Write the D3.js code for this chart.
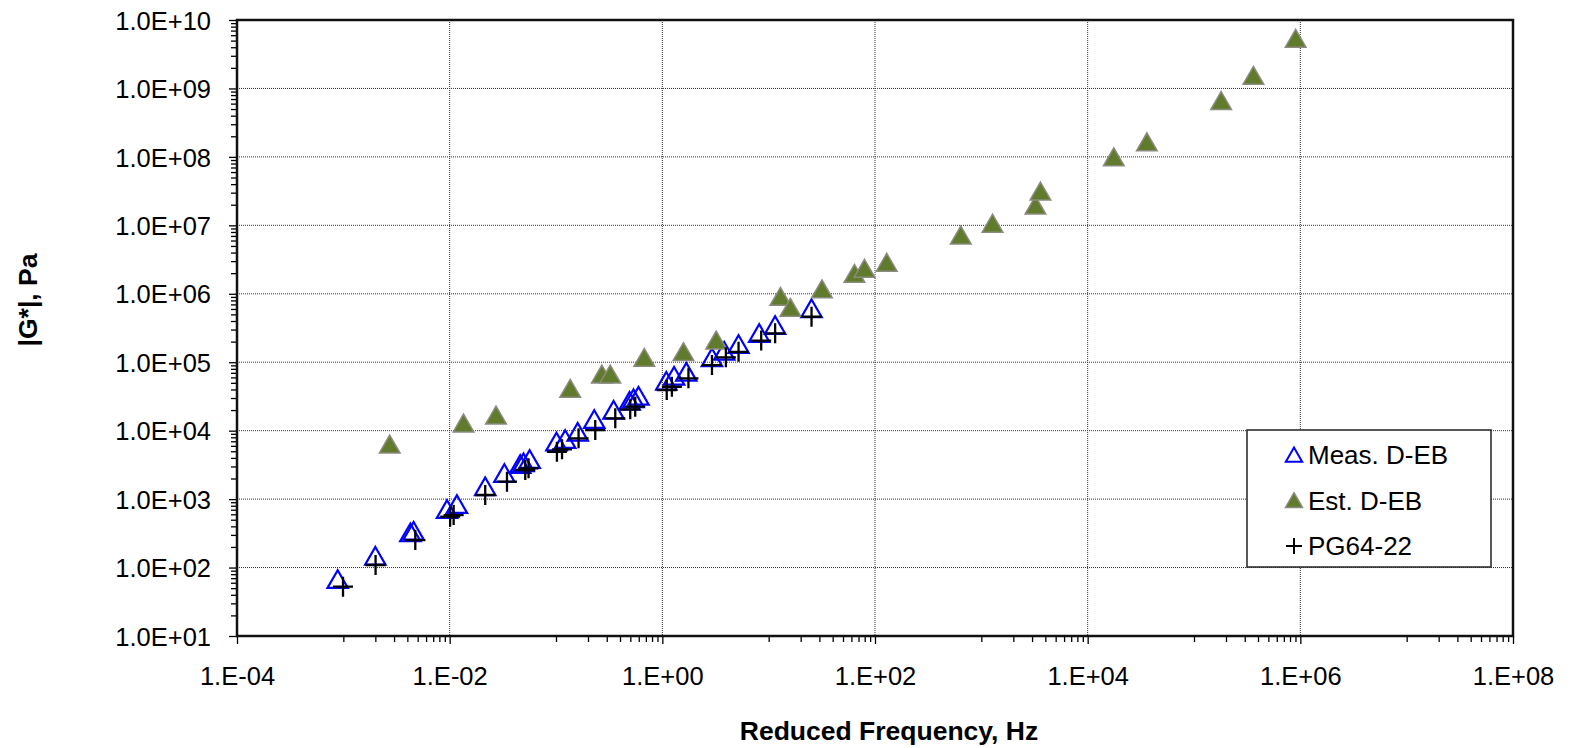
<!DOCTYPE html>
<html lang="en">
<head>
<meta charset="UTF-8">
<title>|G*| vs Reduced Frequency</title>
<script src="https://d3js.org/d3.v7.min.js"></script>
<style>
    body { margin: 0; background: #fff; font-family: "Liberation Sans", Arial, sans-serif; }
    .tick text { font-family: "Liberation Sans", Arial, sans-serif; font-size: 25.5px; fill: #000; }
    .grid line { stroke: #333; stroke-width: 1; stroke-dasharray: 1,1; }
    .axis-title { font-family: "Liberation Sans", Arial, sans-serif; font-size: 26.5px; font-weight: bold; }
    .legend text { font-family: "Liberation Sans", Arial, sans-serif; font-size: 26px; }
</style>
</head>
<body>
<div id="chart"></div>
<script>
// Meas. D-EB (open blue triangles)
const measFreq = [8.85e-4, 2.0e-3, 4.27e-3, 4.58e-3, 9.44e-3, 1.17e-2, 2.16e-2, 3.27e-2, 4.61e-2, 4.95e-2,
    5.65e-2, 0.101, 0.122, 0.160, 0.229, 0.348, 0.492, 0.536, 0.597, 1.09,
    1.29, 1.68, 2.93, 3.82, 5.21, 8.15, 11.5, 25.3];
const measG = [65.8, 144, 316, 333, 692, 818, 1486, 2323, 3148, 3334,
    3724, 6714, 7295, 9333, 14290, 19540, 26490, 28710, 31330, 51880,
    61380, 70310, 1.14e5, 1.42e5, 1.78e5, 2.58e5, 3.38e5, 5.93e5];

// Est. D-EB (filled green triangles)
const estFreq = [2.73e-3, 1.35e-2, 2.73e-2, 0.136, 0.270, 0.324, 0.676, 1.58, 3.21, 12.9,
    16.0, 31.7, 64.1, 79.6, 129, 641, 1274, 3228, 3597, 17620,
    36060, 1.80e5, 3.62e5, 9.04e5];
const estG = [6166, 12500, 16370, 40180, 65010, 65010, 1.14e5, 1.38e5, 2.04e5, 8.87e5,
    6.12e5, 1.14e6, 1.92e6, 2.28e6, 2.79e6, 6.98e6, 1.04e7, 1.91e7, 3.07e7, 9.70e7,
    1.61e8, 6.44e8, 1.50e9, 5.24e9];

// PG64-22 (plus markers)
const pgFreq = [9.93e-4, 2.01e-3, 4.75e-3, 1.01e-2, 1.09e-2, 2.16e-2, 3.46e-2, 5.14e-2, 5.52e-2, 0.102,
    0.114, 0.163, 0.234, 0.361, 0.499, 0.556, 1.10, 1.23, 1.76, 2.93,
    3.96, 5.21, 8.51, 11.5, 25.3];
const pgG = [52.5, 109, 252, 553, 585, 1148, 1795, 2661, 2818, 4920,
    5333, 7727, 10210, 15140, 20510, 22390, 39260, 43850, 58210, 90990,
    1.18e5, 1.42e5, 2.07e5, 2.64e5, 4.62e5];

const xTicks = [1e-4, 1e-2, 1e0, 1e2, 1e4, 1e6, 1e8];
const xTickLabels = ["1.E-04", "1.E-02", "1.E+00", "1.E+02", "1.E+04", "1.E+06", "1.E+08"];
const yTicks = [1e1, 1e2, 1e3, 1e4, 1e5, 1e6, 1e7, 1e8, 1e9, 1e10];
const yTickLabels = ["1.0E+01", "1.0E+02", "1.0E+03", "1.0E+04", "1.0E+05", "1.0E+06", "1.0E+07", "1.0E+08", "1.0E+09", "1.0E+10"];
const seriesNames = ["Meas. D-EB", "Est. D-EB", "PG64-22"];

const W = 1576, H = 748;
const margin = {top: 20, right: 63, bottom: 112, left: 237};
const width = W - margin.left - margin.right;
const height = H - margin.top - margin.bottom;

const svg = d3.select("#chart").append("svg")
    .attr("width", W)
    .attr("height", H);

const g = svg.append("g")
    .attr("transform", `translate(${margin.left},${margin.top})`);

const x = d3.scaleLog().domain([1e-4, 1e8]).range([0, width]);
const y = d3.scaleLog().domain([1e1, 1e10]).range([height, 0]);

// minor ticks: x only in the decade under each labelled one, y in every decade
const xMinor = [];
[-3, -1, 1, 3, 5, 7].forEach(e => { for (let k = 1; k <= 9; k++) xMinor.push(k * Math.pow(10, e)); });
const yMinor = [];
for (let e = 1; e < 10; e++) { for (let k = 2; k <= 9; k++) yMinor.push(k * Math.pow(10, e)); }

// gridlines
g.append("g").attr("class", "grid")
    .selectAll("line")
    .data(yTicks.slice(1, -1))
    .enter().append("line")
    .attr("x1", 0).attr("x2", width)
    .attr("y1", d => y(d)).attr("y2", d => y(d));

g.append("g").attr("class", "grid")
    .selectAll("line")
    .data(xTicks.slice(1, -1))
    .enter().append("line")
    .attr("y1", 0).attr("y2", height)
    .attr("x1", d => x(d)).attr("x2", d => x(d));

// axes
g.append("g")
    .attr("transform", `translate(0,${height})`)
    .call(d3.axisBottom(x).tickValues(xMinor).tickSize(6).tickFormat(""));
const xAxis = g.append("g")
    .attr("transform", `translate(0,${height})`)
    .call(d3.axisBottom(x).tickValues(xTicks).tickSize(8)
        .tickFormat((d, i) => xTickLabels[i]));
xAxis.selectAll("text").attr("y", 31).attr("dy", "0.71em");

g.append("g")
    .call(d3.axisLeft(y).tickValues(yMinor).tickSize(6).tickFormat(""));
const yAxis = g.append("g")
    .call(d3.axisLeft(y).tickValues(yTicks).tickSize(8)
        .tickFormat((d, i) => yTickLabels[i]));
yAxis.selectAll("text").attr("x", -26).attr("dy", "0.36em");

g.selectAll(".domain").remove();
g.selectAll(".tick line").attr("stroke", "#000").attr("stroke-width", 1.3);

// plot frame
g.append("rect")
    .attr("x", 0).attr("y", 0)
    .attr("width", width).attr("height", height)
    .attr("fill", "none")
    .attr("stroke", "#111")
    .attr("stroke-width", 2.5);

// markers
const triUp = d3.symbol().type(d3.symbolTriangle).size(180);
const triUpFilled = d3.symbol().type(d3.symbolTriangle).size(185);
const cross = s => `M${-s},0H${s}M0,${-s}V${s}`;

const meas = measFreq.map((f, i) => ({f: f, g: measG[i]}));
const est = estFreq.map((f, i) => ({f: f, g: estG[i]}));
const pg = pgFreq.map((f, i) => ({f: f, g: pgG[i]}));

g.append("g").selectAll("path")
    .data(meas)
    .enter().append("path")
    .attr("d", triUp)
    .attr("transform", d => `translate(${x(d.f)},${y(d.g) + 2})`)
    .attr("fill", "none")
    .attr("stroke", "#0000ff")
    .attr("stroke-width", 2.2);

g.append("g").selectAll("path")
    .data(est)
    .enter().append("path")
    .attr("d", triUpFilled)
    .attr("transform", d => `translate(${x(d.f)},${y(d.g) + 2})`)
    .attr("fill", "#5f7b2b")
    .attr("stroke", "#8b8b80")
    .attr("stroke-width", 1.5);

g.append("g").selectAll("path")
    .data(pg)
    .enter().append("path")
    .attr("d", cross(10))
    .attr("transform", d => `translate(${x(d.f)},${y(d.g)})`)
    .attr("fill", "none")
    .attr("stroke", "#000")
    .attr("stroke-width", 2.3);

// axis titles
svg.append("text")
    .attr("class", "axis-title")
    .attr("text-anchor", "middle")
    .attr("x", 889)
    .attr("y", 740)
    .text("Reduced Frequency, Hz");

svg.append("text")
    .attr("class", "axis-title")
    .attr("text-anchor", "middle")
    .attr("transform", "translate(37,300) rotate(-90)")
    .text("|G*|, Pa");

// legend
const legend = svg.append("g").attr("class", "legend")
    .attr("transform", "translate(1247,430)");

legend.append("rect")
    .attr("width", 244).attr("height", 137)
    .attr("fill", "#fff")
    .attr("stroke", "#222")
    .attr("stroke-width", 1.5);

const rows = legend.selectAll("g.row")
    .data(seriesNames)
    .enter().append("g")
    .attr("class", "row")
    .attr("transform", (d, i) => `translate(0,${25 + i * 45.5})`);

rows.each(function(d, i) {
    const r = d3.select(this);
    if (i === 0) {
        r.append("path").attr("d", d3.symbol().type(d3.symbolTriangle).size(115))
            .attr("transform", "translate(47,2)")
            .attr("fill", "none").attr("stroke", "#0000ff").attr("stroke-width", 2);
    } else if (i === 1) {
        r.append("path").attr("d", d3.symbol().type(d3.symbolTriangle).size(125))
            .attr("transform", "translate(47,2)")
            .attr("fill", "#5f7b2b").attr("stroke", "#8b8b80").attr("stroke-width", 1.5);
    } else {
        r.append("path").attr("d", cross(8))
            .attr("transform", "translate(47,0)")
            .attr("fill", "none").attr("stroke", "#000").attr("stroke-width", 2);
    }
    r.append("text")
        .attr("x", 61)
        .attr("y", 9)
        .text(d);
});
</script>
</body>
</html>
